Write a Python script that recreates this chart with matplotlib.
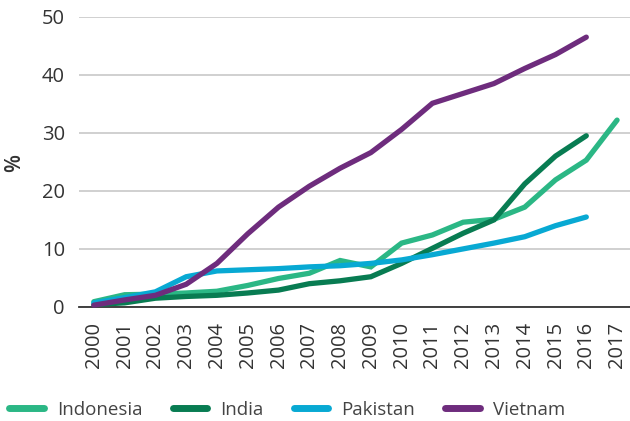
import matplotlib
matplotlib.use("Agg")
import matplotlib.pyplot as plt

years = list(range(2000, 2018))

indonesia = [0.9, 2.1, 2.2, 2.4, 2.7, 3.7, 4.9, 5.8, 8.0, 6.9,
             11.0, 12.4, 14.6, 15.1, 17.2, 21.9, 25.3, 32.2]
india = [0.4, 0.7, 1.5, 1.8, 2.0, 2.4, 2.9, 4.0, 4.5, 5.2,
         7.5, 10.1, 12.7, 15.0, 21.2, 26.0, 29.5]
pakistan = [0.7, 1.6, 2.6, 5.2, 6.2, 6.4, 6.6, 6.9, 7.1, 7.5,
            8.1, 9.0, 10.0, 11.0, 12.1, 14.0, 15.5]
vietnam = [0.3, 1.2, 2.0, 3.9, 7.5, 12.6, 17.2, 20.8, 23.9, 26.6,
           30.6, 35.1, 36.8, 38.5, 41.1, 43.5, 46.5]

series = [
    ("Indonesia", indonesia, "#2bb785"),
    ("India", india, "#087c52"),
    ("Pakistan", pakistan, "#08a9d3"),
    ("Vietnam", vietnam, "#6e2c7d"),
]

plt.rcParams["font.family"] = ["Open Sans", "DejaVu Sans"]

fig = plt.figure(figsize=(6.3, 4.21), dpi=100)
ax = fig.add_axes([0.125, 0.271, 0.875, 0.689])

for name, vals, col in series:
    ax.plot(years[:len(vals)], vals, color=col, lw=3.8, label=name,
            solid_capstyle="round", solid_joinstyle="miter", clip_on=False)

ax.set_xlim(1999.51, 2017.42)
ax.set_ylim(0, 50)
ax.set_yticks(range(0, 51, 10))
ax.set_xticks(years)
ax.set_xticklabels([str(y) for y in years], rotation=90)
ax.grid(axis="y", color="#c4c4c4", lw=1.1)
ax.set_axisbelow(True)
for s in ["top", "right", "left"]:
    ax.spines[s].set_visible(False)
ax.spines["bottom"].set_color("#333333")
ax.spines["bottom"].set_linewidth(1.3)
ax.spines["bottom"].set_zorder(1)
ax.tick_params(axis="both", length=0, labelsize=14.5, colors="#333333")
ax.tick_params(axis="y", pad=10)
ax.tick_params(axis="x", pad=11)
fig.text(15 / 630, 1 - 163 / 421, "%", rotation=90, fontsize=15,
         fontweight="semibold", color="#333333", ha="center", va="center")

leg = fig.legend(loc="center left", bbox_to_anchor=(0.003, 1 - 410 / 421),
                 ncol=4, frameon=False, fontsize=13.5, handlelength=1.85,
                 columnspacing=1.6, handletextpad=0.7, borderaxespad=0)
for t in leg.get_texts():
    t.set_color("#444444")
for h in leg.get_lines():
    h.set_linewidth(5)
    h.set_solid_capstyle("round")

fig.savefig("out.png", dpi=100)
